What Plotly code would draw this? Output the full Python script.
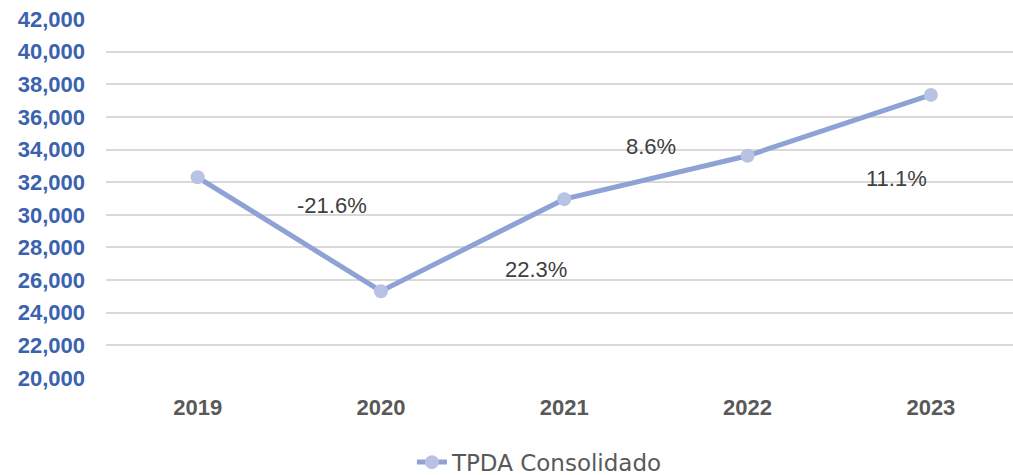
import plotly.graph_objects as go

years = ["2019", "2020", "2021", "2022", "2023"]
tpda = [32300, 25320, 30960, 33620, 37350]
growth_labels = ["-21.6%", "22.3%", "8.6%", "11.1%"]
y_ticks = list(range(20000, 42001, 2000))
y_tick_text = [f"{v:,}" for v in y_ticks]

fig = go.Figure()
fig.add_trace(go.Scatter(
    x=list(range(len(years))), y=tpda, mode="lines+markers",
    name="TPDA Consolidado",
    line=dict(color="#8EA2D6", width=5),
    marker=dict(color="#B7C2E4", size=14),
))

# label offsets (pixels) relative to each segment midpoint
shifts = [(43, 29), (63, -24), (-5, 31), (57, -53)]
for i, lab in enumerate(growth_labels):
    fig.add_annotation(
        x=i + 0.5, y=(tpda[i] + tpda[i + 1]) / 2, text=lab, showarrow=False,
        xshift=shifts[i][0], yshift=shifts[i][1],
        font=dict(family="Liberation Sans", size=22, color="#404040"),
    )

fig.update_layout(
    width=1013, height=475,
    margin=dict(l=106, r=0, t=19, b=97, autoexpand=False),
    paper_bgcolor="white", plot_bgcolor="white",
    showlegend=True,
    legend=dict(orientation="h", x=0.533, xanchor="center", xref="container",
                y=0.027, yanchor="middle", yref="container",
                font=dict(family="DejaVu Sans", size=23, color="#595959")),
    xaxis=dict(
        range=[-0.5, 4.448], tickmode="array", tickvals=list(range(len(years))),
        ticktext=years, showgrid=False, zeroline=False, showline=False, automargin=False,
        tickfont=dict(family="Liberation Sans", size=22, color="#595959", weight="bold"),
        ticklabelstandoff=14,
    ),
    yaxis=dict(
        range=[20000, 42000], tickmode="array", tickvals=y_ticks, ticktext=y_tick_text,
        showgrid=True, gridcolor="#D9D9D9", gridwidth=1.5, zeroline=False, showline=False,
        automargin=False,
        tickfont=dict(family="Liberation Sans", size=22, color="#3A62AF", weight="bold"),
        ticklabelstandoff=20,
    ),
)

fig.write_html("out.html", config={"displayModeBar": False},
               post_script="document.body.style.margin='0';document.body.style.overflow='hidden';")
